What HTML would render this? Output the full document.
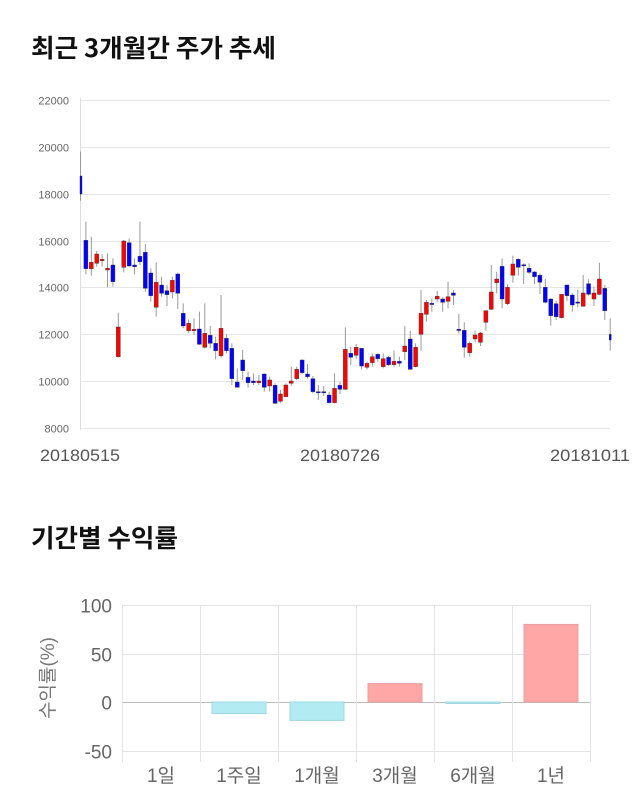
<!DOCTYPE html>
<html><head><meta charset="utf-8"><style>
html,body{margin:0;padding:0;background:#fff;}
svg{display:block;font-family:"Liberation Sans","Noto Sans CJK KR",sans-serif;}
</style></head><body>
<svg id="s" width="640" height="810" viewBox="0 0 640 810" xmlns="http://www.w3.org/2000/svg">
<text x="31" y="57" font-size="25" font-weight="bold" fill="#111" textLength="245" lengthAdjust="spacingAndGlyphs" font-family="'Noto Sans CJK KR',sans-serif">최근 3개월간 주가 추세</text>
<g id="grid" stroke="#e6e6e6" stroke-width="1"></g>
<g id="yl" font-size="11" fill="#666" text-anchor="end"></g>
<line x1="80.5" y1="98" x2="80.5" y2="430" stroke="#ddd"/>
<g id="candles"></g>
<g font-size="17" fill="#555">
<text x="40" y="461" textLength="80" lengthAdjust="spacingAndGlyphs">20180515</text>
<text x="300" y="461" textLength="80" lengthAdjust="spacingAndGlyphs">20180726</text>
<text x="550" y="461" textLength="80" lengthAdjust="spacingAndGlyphs">20181011</text>
</g>
<text x="31" y="547" font-size="25" font-weight="bold" fill="#111" textLength="147" lengthAdjust="spacingAndGlyphs" font-family="'Noto Sans CJK KR',sans-serif">기간별 수익률</text>
<g id="bars"></g>
</svg>
<script>
var NS="http://www.w3.org/2000/svg";
function el(p,t,a){var e=document.createElementNS(NS,t);for(var k in a)e.setAttribute(k,a[k]);p.appendChild(e);return e;}
var g=document.getElementById('grid'),yl=document.getElementById('yl');
for(var v=8000;v<=22000;v+=2000){var y=428-(v-8000)/14000*328;y=Math.round(y)+0.5;
el(g,'line',{x1:80,x2:610,y1:y,y2:y});var t=el(yl,'text',{x:69,y:y+4});t.textContent=v;}
var C=[['b',258,312,185,332],['b',451,536,395,553],['r',517,536,440,557],['r',492,520,483,530],['r',508,512,493,530],['r',535,540,490,592],['b',525,575,505,590],['r',711,800,668,803],['r',453,532,450,547],['b',458,528,446,530],['b',525,530,505,553],['b',499,515,395,525],['b',487,595,462,605],['b',549,617,535,635],['r',577,652,517,680],['b',585,610,560,620],['b',602,614,585,648],['r',571,606,560,625],['b',552,610,548,657],['b',670,708,640,715],['r',700,722,688,730],['r',718,722,685,735],['b',717,763,665,765],['r',730,772,640,775],['b',736,760,708,775],['b',760,782,740,808],['r',715,797,615,803],['b',745,782,732,790],['b',775,866,760,885],['b',876,892,835,892],['b',810,842,780,870],['b',862,878,845,893],['b',873,878,850,885],['r',873,878,855,885],['b',852,892,850,905],['r',870,888,860,905],['b',886,940,880,942],['r',912,934,900,938],['r',885,920,880,920],['r',873,880,830,888],['r',838,866,830,870],['b',810,848,808,852],['b',852,860,822,865],['b',866,905,858,910],['b',905,908,885,930],['b',905,908,888,918],
['b',915,938,905,940],['r',895,938,850,940],['b',886,898,875,912],['r',778,898,712,900],['b',790,802,770,825],['r',772,796,762,806],['b',775,828,775,838],['r',820,832,815,838],['r',800,818,790,830],['b',793,806,790,815],['r',806,830,790,835],['b',802,824,798,828],['r',814,824,782,830],['b',814,820,800,830],['r',768,785,708,810],['b',747,838,722,840],['r',772,830,760,832],['r',670,733,600,782],['r',637,673,630,695],['b',640,643,625,665],['r',619,627,603,637],['b',627,637,622,665],['r',620,634,575,655],['b',609,616,600,645],
['b',718,721,672,730],['b',721,772,697,803],['r',760,788,755,800],['r',735,747,722,758],['r',729,757,726,768],['r',662,697,662,722],['r',606,658,525,660],['r',567,578,545,610],['b',529,627,505,655],['r',592,641,583,645],['r',522,556,497,578],['b',508,532,505,557],['b',524,527,520,582],['b',535,547,520,552],['b',546,560,543,582],['b',556,577,550,612],['b',592,637,567,640],['b',627,677,625,707],['b',641,680,632,690],['r',613,683,612,685],['b',585,617,585,632],['b',615,645,610,665],['b',636,638,600,652],['r',609,649,555,650],['b',581,613,568,617],['r',609,627,590,648],['r',567,613,518,615],['b',595,662,585,690],['b',733,750,685,782]];
var cg=document.getElementById('candles');
C.forEach(function(c,i){var x=80.5+i*5.405;var f=function(z){return 90+z/3;};
el(cg,'line',{x1:x,x2:x,y1:f(c[3]),y2:f(c[4]),stroke:'#999','stroke-width':1});
var h=Math.max(1.2,f(c[2])-f(c[1]));
var w=(i==0||i==98)?2:4;var xx=(i==0)?x-0.5:x-w/2;
el(cg,'rect',{x:xx,y:f(c[1]),width:w,height:h,fill:c[0]=='r'?'#ff0000':'#0000ff',stroke:'#333','stroke-width':0.4});});
var b=document.getElementById('bars');
var Y=function(v){return 702-v*0.97;};
[100,50,0,-50].forEach(function(v){var y=Math.round(Y(v))+0.5;
el(b,'line',{x1:122,x2:590,y1:y,y2:y,stroke:v==0?'#bbb':'#e4e4e4'});
var t=el(b,'text',{x:112,y:y+7,'font-size':19,fill:'#666','text-anchor':'end'});t.textContent=v;});
for(var i=0;i<7;i++){var x=122.5+i*78;el(b,'line',{x1:x,x2:x,y1:605,y2:762,stroke:'#e4e4e4'});}
var vals=[0,-12,-19,19,-1,80],labs=['1일','1주일','1개월','3개월','6개월','1년'];
vals.forEach(function(v,i){var x=134+i*78;
if(v!=0){var y1=Math.min(Y(v),702),y2=Math.max(Y(v),702);
el(b,'rect',{x:x,y:y1,width:54,height:Math.max(1.5,y2-y1),fill:v>0?'#ffa6a6':'#b2ebf2',stroke:v>0?'#e8a0a0':'#9fd8e0','stroke-width':1});}
var t=el(b,'text',{x:x+27,y:782,'font-size':19,fill:'#666','text-anchor':'middle'});t.textContent=labs[i];});
var t=el(b,'text',{x:0,y:0,'font-size':19,fill:'#777','text-anchor':'middle',transform:'translate(54,678) rotate(-90)'});t.textContent='수익률(%)';
</script>
</body></html>
